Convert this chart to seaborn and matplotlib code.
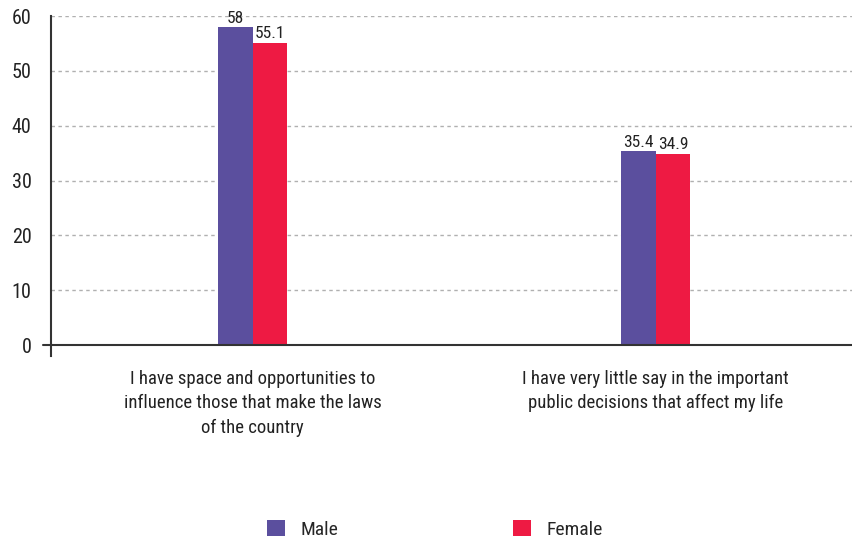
import matplotlib
matplotlib.use("Agg")
import matplotlib.pyplot as plt
import seaborn as sns
import pandas as pd
from matplotlib.patches import Patch
from matplotlib import font_manager

categories = [
    "I have space and opportunities to\ninfluence those that make the laws\nof the country",
    "I have very little say in the important\npublic decisions that affect my life",
]
series_names = ["Male", "Female"]
male_values = [58, 35.4]
female_values = [55.1, 34.9]
male_labels = ["58", "35.4"]
female_labels = ["55.1", "34.9"]
y_ticks = [0, 10, 20, 30, 40, 50, 60]

colors = {"Male": "#5B4F9E", "Female": "#EE1A43"}

sns.set_style("white")
installed = {f.name for f in font_manager.fontManager.ttflist}
preferred = ["Liberation Sans Narrow", "Roboto Condensed", "Open Sans Condensed",
             "DejaVu Sans Condensed", "Liberation Sans"]
chosen = [f for f in preferred if f in installed][:1]
narrow = bool(chosen) and chosen[0] != "Liberation Sans"
plt.rcParams['font.family'] = chosen + ['DejaVu Sans']

scale = 1.0 if narrow else 0.93

df = pd.DataFrame({
    "category": categories * 2,
    "series": ["Male"] * len(categories) + ["Female"] * len(categories),
    "value": male_values + female_values,
})

fig = plt.figure(figsize=(8.53, 5.43), dpi=100)
ax = fig.add_axes([0.0598, 0.3444, 0.945, 0.9705 - 0.3444])

sns.barplot(data=df, x="category", y="value", hue="series", order=categories,
            hue_order=series_names, palette=colors, width=0.172, gap=0,
            saturation=1, ax=ax, legend=False, edgecolor="none", linewidth=0)

labels_map = {"Male": male_labels, "Female": female_labels}
for cont, name in zip(ax.containers, series_names):
    ax.bar_label(cont, labels=labels_map[name], padding=1, fontsize=12.5 * scale, color="#222222")

ax.set_xlim(-0.5, 1.5)
ax.set_ylim(-2, 60)
ax.set_yticks(y_ticks)
ax.set_yticklabels([str(t) for t in y_ticks], fontsize=14.5 * scale, color="#222222")
ax.tick_params(axis="y", length=0, pad=14)
ax.tick_params(axis="x", length=0, pad=10, labelsize=13.5 * scale, labelcolor="#222222")
for t in ax.get_xticklabels():
    t.set_linespacing(1.45)
ax.set_xlabel("")
ax.set_ylabel("")

for y in y_ticks[1:]:
    ax.axhline(y, color="#b0b0b0", linestyle=(0, (2.5, 2.5)), linewidth=1, zorder=0)
ax.axhline(0, xmin=-0.01, xmax=1, color="#333333", linewidth=1.5, clip_on=False, zorder=3)

for s in ["top", "right", "bottom"]:
    ax.spines[s].set_visible(False)
ax.spines["left"].set_color("#333333")
ax.spines["left"].set_linewidth(1.5)

handles = [Patch(facecolor=colors[n], edgecolor="none") for n in series_names]
fig.legend(handles, series_names, loc="center", bbox_to_anchor=(0.51, 0.025),
           ncol=2, frameon=False, fontsize=14 * scale, columnspacing=9.0,
           handlelength=0.9, handleheight=0.9, handletextpad=0.8)

fig.savefig("out.png", dpi=100)
